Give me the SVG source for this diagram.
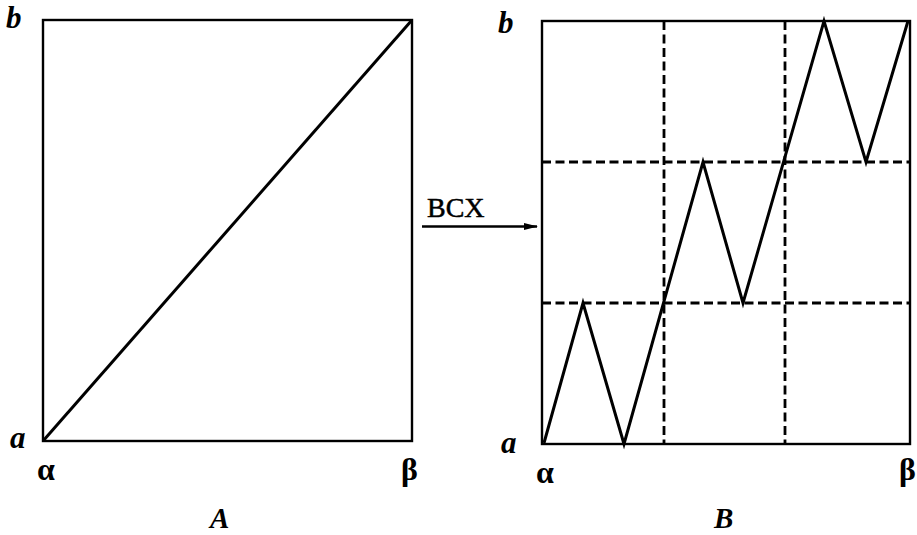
<svg xmlns="http://www.w3.org/2000/svg" width="917" height="535" viewBox="0 0 917 535">
<defs>
<style>
.box{fill:none;stroke:#000;stroke-width:2.4}
.ln{fill:none;stroke:#000;stroke-width:3;stroke-linejoin:miter}
.dash{fill:none;stroke:#000;stroke-width:2.8;stroke-dasharray:9 4.5}
.it{font-family:"Liberation Serif",serif;font-style:italic;font-weight:bold;font-size:31px;fill:#000}
.cap{font-family:"Liberation Serif",serif;font-style:italic;font-weight:bold;font-size:29px;fill:#000}
.gr{font-family:"Liberation Serif",serif;font-weight:bold;font-size:32px;fill:#000}
.tx{font-family:"Liberation Serif",serif;font-size:28px;fill:#000;stroke:#000;stroke-width:0.5}
</style>
<marker id="ah" markerWidth="14" markerHeight="8" refX="13" refY="4" orient="auto" markerUnits="userSpaceOnUse">
<path d="M0,0.5 L14,4 L0,7.5 Z" fill="#000"/>
</marker>
</defs>
<g id="panelA">
<rect class="box" x="43" y="20" width="369" height="421"/>
<line class="ln" x1="43" y1="441" x2="412" y2="20"/>
<text class="it" x="6" y="28">b</text>
<text class="it" x="10" y="448">a</text>
<text class="gr" x="37" y="480">α</text>
<text class="gr" x="401" y="480">β</text>
<text class="cap" x="210" y="528">A</text>
</g>
<g id="panelB">
<line class="dash" x1="542" y1="162" x2="910" y2="162"/>
<line class="dash" x1="542" y1="303" x2="910" y2="303"/>
<line class="dash" x1="664" y1="21" x2="664" y2="444"/>
<line class="dash" x1="785" y1="21" x2="785" y2="444"/>
<rect class="box" x="542" y="21" width="368" height="423"/>
<polyline class="ln" points="544,443 583,303 624,444 703,162 743,303 824,21 866,162 908,21"/>
<text class="it" x="498" y="33">b</text>
<text class="it" x="501" y="453">a</text>
<text class="gr" x="536" y="483">α</text>
<text class="gr" x="899" y="480">β</text>
<text class="cap" x="714" y="528">B</text>
</g>
<g id="connectors">
<line x1="422" y1="226.5" x2="537" y2="226.5" stroke="#000" stroke-width="2.6" marker-end="url(#ah)"/>
<text class="tx" x="427" y="217">BCX</text>
</g>
</svg>
